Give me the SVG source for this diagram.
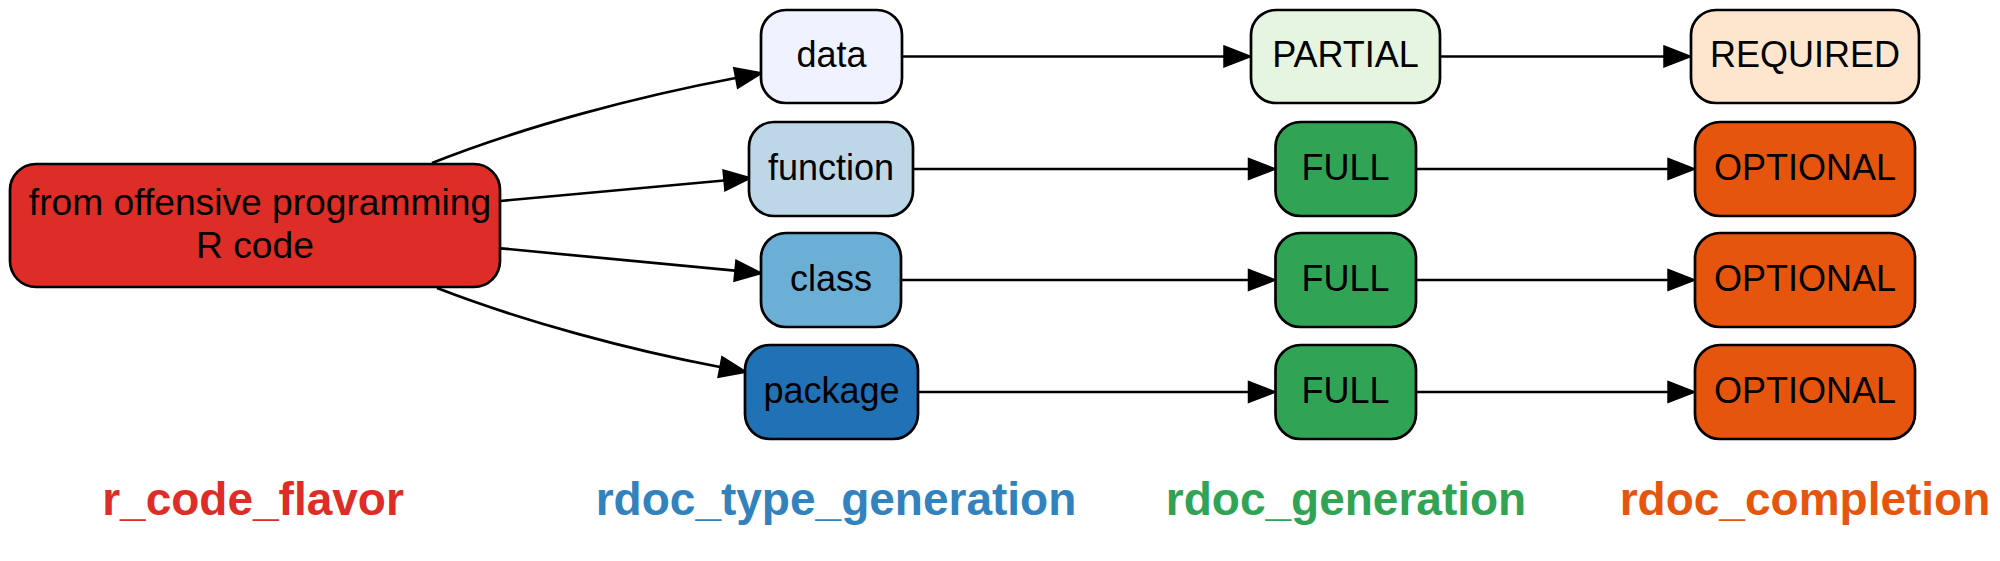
<svg xmlns="http://www.w3.org/2000/svg" width="2000" height="561" viewBox="0 0 2000 561">
<style>
.n{stroke:#000;stroke-width:2.7}
.t{font-family:"Liberation Sans",Arial,sans-serif;font-size:36px;fill:#000;text-anchor:middle}
.m{font-size:37.2px}
.e{fill:none;stroke:#000;stroke-width:2.7}
.l{font-family:"Liberation Sans",Arial,sans-serif;font-size:46px;font-weight:bold;text-anchor:middle}
</style>
<defs>
<marker id="ah" markerUnits="userSpaceOnUse" markerWidth="30" markerHeight="24" refX="0" refY="10.5" orient="auto" overflow="visible">
<path d="M0,0 L27,10.5 L0,21 Z" fill="#000" stroke="#000" stroke-width="1.5" stroke-linejoin="miter"/>
</marker>
</defs>
<rect width="2000" height="561" fill="#fff"/>
<g id="edges">
<path class="e" marker-end="url(#ah)" d="M432,163 C525,126 640,96 735.7,78"/>
<path class="e" marker-end="url(#ah)" d="M500,201 L724,180.5"/>
<path class="e" marker-end="url(#ah)" d="M500.6,248.3 L735,270.7"/>
<path class="e" marker-end="url(#ah)" d="M437,288 C525,322 630,350 720,367"/>
<path class="e" marker-end="url(#ah)" d="M902,56.5 L1224,56.5"/>
<path class="e" marker-end="url(#ah)" d="M1440,56.5 L1664,56.5"/>
<path class="e" marker-end="url(#ah)" d="M913,169 L1248.5,169"/>
<path class="e" marker-end="url(#ah)" d="M1416,169 L1668,169"/>
<path class="e" marker-end="url(#ah)" d="M901,280 L1248.5,280"/>
<path class="e" marker-end="url(#ah)" d="M1416,280 L1668,280"/>
<path class="e" marker-end="url(#ah)" d="M918,392 L1248.5,392"/>
<path class="e" marker-end="url(#ah)" d="M1416,392 L1668,392"/>
</g>
<g id="main">
<rect class="n" x="10" y="164" width="490" height="123" rx="26" fill="#de2d26"/>
<text class="t m" x="260" y="215">from offensive programming</text>
<text class="t m" x="255" y="258">R code</text>
</g>
<g id="data">
<rect class="n" x="761" y="10" width="141" height="93" rx="25" fill="#eff3ff"/>
<text class="t" x="831.5" y="67">data</text>
</g>
<g id="function">
<rect class="n" x="749" y="122" width="164" height="94" rx="25" fill="#bdd7e7"/>
<text class="t" x="831" y="179.5">function</text>
</g>
<g id="class">
<rect class="n" x="761" y="233" width="140" height="94" rx="25" fill="#6baed6"/>
<text class="t" x="831" y="290.5">class</text>
</g>
<g id="package">
<rect class="n" x="745" y="345" width="173" height="94" rx="25" fill="#2171b5"/>
<text class="t" x="831.5" y="402.5">package</text>
</g>
<g id="partial">
<rect class="n" x="1251" y="10" width="189" height="93" rx="25" fill="#e5f5e0"/>
<text class="t" x="1345.5" y="67">PARTIAL</text>
</g>
<g id="full1">
<rect class="n" x="1275.5" y="122" width="140.5" height="94" rx="25" fill="#31a354"/>
<text class="t" x="1345.5" y="179.5">FULL</text>
</g>
<g id="full2">
<rect class="n" x="1275.5" y="233" width="140.5" height="94" rx="25" fill="#31a354"/>
<text class="t" x="1345.5" y="290.5">FULL</text>
</g>
<g id="full3">
<rect class="n" x="1275.5" y="345" width="140.5" height="94" rx="25" fill="#31a354"/>
<text class="t" x="1345.5" y="402.5">FULL</text>
</g>
<g id="required">
<rect class="n" x="1691" y="10" width="228" height="93" rx="25" fill="#fee6ce"/>
<text class="t" x="1805" y="67">REQUIRED</text>
</g>
<g id="optional1">
<rect class="n" x="1695" y="122" width="220" height="94" rx="25" fill="#e6550d"/>
<text class="t" x="1805" y="179.5">OPTIONAL</text>
</g>
<g id="optional2">
<rect class="n" x="1695" y="233" width="220" height="94" rx="25" fill="#e6550d"/>
<text class="t" x="1805" y="290.5">OPTIONAL</text>
</g>
<g id="optional3">
<rect class="n" x="1695" y="345" width="220" height="94" rx="25" fill="#e6550d"/>
<text class="t" x="1805" y="402.5">OPTIONAL</text>
</g>
<g id="labels">
<text class="l" x="253" y="515" fill="#de2d26">r_code_flavor</text>
<text class="l" x="836" y="515" fill="#3182bd">rdoc_type_generation</text>
<text class="l" x="1346" y="515" fill="#31a354">rdoc_generation</text>
<text class="l" x="1805" y="515" fill="#e6550d">rdoc_completion</text>
</g>
</svg>
